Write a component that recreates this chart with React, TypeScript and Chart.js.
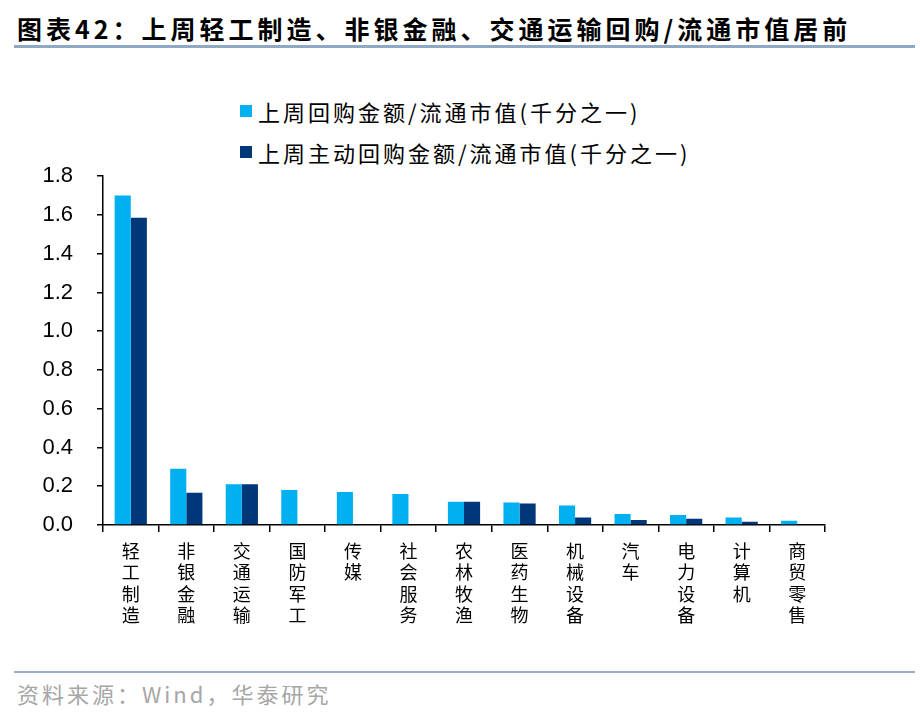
import { useEffect, useRef } from 'react'
import { Chart, registerables } from 'chart.js'

Chart.register(...registerables)

const categories = ['轻工制造', '非银金融', '交通运输', '国防军工', '传媒', '社会服务', '农林牧渔', '医药生物', '机械设备', '汽车', '电力设备', '计算机', '商贸零售']
const repurchaseRatio = [1.70, 0.29, 0.21, 0.18, 0.17, 0.16, 0.12, 0.116, 0.10, 0.057, 0.051, 0.039, 0.022]
const activeRepurchaseRatio = [1.585, 0.166, 0.21, 0, 0, 0, 0.12, 0.111, 0.039, 0.026, 0.032, 0.017, 0]
const seriesLabels = ['上周回购金额/流通市值(千分之一)', '上周主动回购金额/流通市值(千分之一)']
const seriesColors = ['#00B0F0', '#003778']
const yTicks = { min: 0, max: 1.8, step: 0.2 }

const cjk = '"Noto Sans CJK SC", "Noto Sans", sans-serif'

export default function App() {
  const chartRef = useRef<HTMLCanvasElement>(null)
  const chartInstance = useRef<Chart | null>(null)

  useEffect(() => {
    if (!chartRef.current) return
    if (chartInstance.current) chartInstance.current.destroy()

    chartInstance.current = new Chart(chartRef.current, {
      type: 'bar',
      data: {
        labels: categories.map(c => c.split('')),
        datasets: [
          { label: seriesLabels[0], data: repurchaseRatio, backgroundColor: seriesColors[0] },
          { label: seriesLabels[1], data: activeRepurchaseRatio, backgroundColor: seriesColors[1] },
        ],
      },
      options: {
        animation: false,
        responsive: true,
        maintainAspectRatio: false,
        layout: { padding: { top: 15, right: 35, left: 0, bottom: 0 } },
        datasets: { bar: { categoryPercentage: 0.58, barPercentage: 1 } },
        plugins: {
          legend: { display: false },
          tooltip: { enabled: false },
        },
        scales: {
          x: {
            grid: { offset: true, drawOnChartArea: false, tickLength: 7, color: '#000', lineWidth: 1.5 },
            border: { color: '#000', width: 1.5 },
            ticks: {
              autoSkip: false,
              maxRotation: 0,
              padding: 8,
              color: '#000',
              font: { family: cjk, size: 18, lineHeight: 1.2 },
            },
            afterFit: scale => { scale.height = 115 },
          },
          y: {
            min: yTicks.min,
            max: yTicks.max,
            grid: { drawOnChartArea: false, tickLength: 6, color: '#000', lineWidth: 1.5 },
            border: { color: '#000', width: 1.5 },
            ticks: {
              stepSize: yTicks.step,
              padding: 24,
              color: '#000',
              font: { family: '"Liberation Sans", Arial, sans-serif', size: 22 },
              callback: v => Number(v).toFixed(1),
            },
            afterFit: scale => { scale.width = 103 },
          },
        },
      },
    })

    return () => {
      if (chartInstance.current) {
        chartInstance.current.destroy()
        chartInstance.current = null
      }
    }
  }, [])

  return (
    <div style={{ position: 'absolute', left: 0, top: 0, width: 920, height: 722, background: '#fff', fontFamily: cjk }}>
      <div style={{ position: 'absolute', left: 17, top: 10, fontSize: 25, fontWeight: 700, letterSpacing: 4, lineHeight: '36px', color: '#000', whiteSpace: 'nowrap' }}>
        图表42：上周轻工制造、非银金融、交通运输回购/流通市值居前
      </div>
      <div style={{ position: 'absolute', left: 14, top: 45, width: 901, height: 3, background: '#8FA8C6' }} />

      {seriesLabels.map((label, i) => (
        <div key={label} style={{ position: 'absolute', left: 240, top: 95 + i * 41, height: 32, display: 'flex', alignItems: 'center', whiteSpace: 'nowrap' }}>
          <span style={{ width: 12, height: 12, background: seriesColors[i], marginRight: 6, display: 'inline-block' }} />
          <span style={{ fontSize: 22, letterSpacing: 3, color: '#000' }}>{label}</span>
        </div>
      ))}

      <div style={{ position: 'absolute', left: 0, top: 139, width: 860, height: 501 }}>
        <canvas ref={chartRef} />
      </div>

      <div style={{ position: 'absolute', left: 14, top: 671, width: 901, height: 2, background: '#98AECB' }} />
      <div style={{ position: 'absolute', left: 17, top: 677, fontSize: 22, letterSpacing: 3, lineHeight: '32px', color: '#A6A6A6', whiteSpace: 'nowrap' }}>
        资料来源：Wind，华泰研究
      </div>
    </div>
  )
}
